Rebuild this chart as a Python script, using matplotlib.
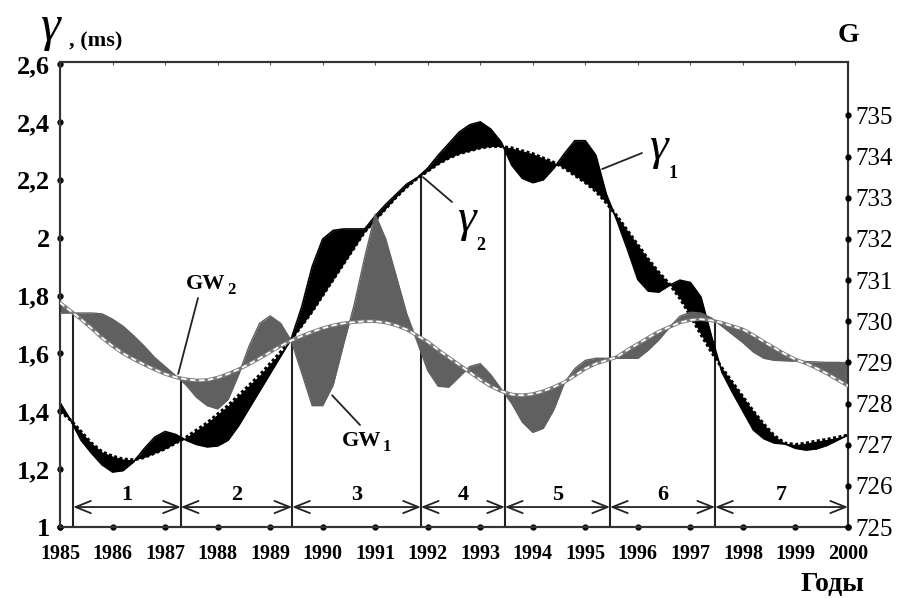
import numpy as np
import matplotlib
matplotlib.use("Agg")
import matplotlib.pyplot as plt

plt.rcParams["font.family"] = ["Liberation Serif", "DejaVu Serif"]

# sampling grid of the curves (every 0.2 year)
years = np.round(np.arange(1985.0, 2000.01, 0.2), 1)

# gamma_1 (wiggly) and gamma_2 (smooth), ms
gamma1 = [1.43, 1.37, 1.30, 1.255, 1.215, 1.19, 1.195, 1.225, 1.27, 1.31,
          1.33, 1.32, 1.30, 1.285, 1.277, 1.28, 1.30, 1.35, 1.41, 1.47,
          1.53, 1.59, 1.65, 1.76, 1.90, 1.995, 2.025, 2.03, 2.03, 2.03,
          2.075, 2.115, 2.15, 2.185, 2.207, 2.24, 2.285, 2.325, 2.365, 2.39,
          2.40, 2.375, 2.33, 2.25, 2.205, 2.19, 2.20, 2.24, 2.29, 2.335,
          2.335, 2.285, 2.15, 2.06, 1.96, 1.855, 1.815, 1.812, 1.835, 1.853,
          1.845, 1.795, 1.66, 1.535, 1.465, 1.40, 1.335, 1.305, 1.29, 1.287,
          1.272, 1.266, 1.27, 1.282, 1.30, 1.318]
gamma2 = [1.40, 1.37, 1.33, 1.29, 1.26, 1.245, 1.235, 1.232, 1.24, 1.255,
          1.27, 1.29, 1.31, 1.335, 1.36, 1.39, 1.42, 1.455, 1.49, 1.525,
          1.565, 1.605, 1.648, 1.695, 1.745, 1.80, 1.855, 1.91, 1.965, 2.02,
          2.06, 2.10, 2.14, 2.175, 2.205, 2.23, 2.255, 2.275, 2.29, 2.30,
          2.31, 2.315, 2.315, 2.31, 2.30, 2.29, 2.275, 2.26, 2.24, 2.215,
          2.19, 2.16, 2.12, 2.075, 2.025, 1.975, 1.925, 1.88, 1.84, 1.79,
          1.73, 1.665, 1.605, 1.55, 1.50, 1.45, 1.40, 1.355, 1.315, 1.29,
          1.285, 1.29, 1.297, 1.303, 1.31, 1.318]

# GW_1 (wiggly) and GW_2 (smooth), G units
gw1 = [730.2, 730.2, 730.2, 730.2, 730.18, 730.05, 729.88, 729.65, 729.4, 729.12,
       728.9, 728.68, 728.45, 728.15, 727.95, 727.87, 728.1, 728.7, 729.4, 729.95,
       730.13, 729.95, 729.53, 728.75, 727.95, 727.95, 728.45, 729.45, 730.4, 731.55,
       732.6, 732.0, 731.1, 730.18, 729.5, 728.8, 728.42, 728.4, 728.65, 728.9,
       728.97, 728.7, 728.35, 728.0, 727.55, 727.3, 727.4, 727.85, 728.5, 728.85,
       729.05, 729.1, 729.1, 729.1, 729.1, 729.1, 729.3, 729.55, 729.85, 730.12,
       730.22, 730.2, 730.08, 729.88, 729.68, 729.48, 729.25, 729.1, 729.05, 729.04,
       729.03, 729.02, 729.01, 729.0, 729.0, 728.99]
gw2 = [730.45, 730.25, 730.05, 729.83, 729.6, 729.4, 729.22, 729.08, 728.95, 728.83,
       728.72, 728.64, 728.59, 728.56, 728.57, 728.63, 728.72, 728.83, 728.96, 729.1,
       729.25, 729.4, 729.53, 729.64, 729.74, 729.83, 729.9, 729.95, 729.98, 730.0,
       730.0, 729.97, 729.9, 729.8, 729.65, 729.5, 729.3, 729.12, 728.94, 728.76,
       728.58, 728.42, 728.3, 728.22, 728.2, 728.23, 728.3, 728.4, 728.52, 728.68,
       728.85, 728.97, 729.05, 729.13, 729.3, 729.45, 729.6, 729.75, 729.86, 729.97,
       730.03, 730.05, 730.02, 729.96, 729.88, 729.8, 729.66, 729.5, 729.35, 729.2,
       729.07, 728.98, 728.86, 728.73, 728.58, 728.43]

# period boundaries (years) and their labels
boundaries = [1985.25, 1987.3, 1989.42, 1991.87, 1993.47, 1995.47, 1997.47, 2000.0]
period_labels = ["1", "2", "3", "4", "5", "6", "7"]

x_ticks = list(range(1985, 2001))
g_left_ticks = [1.0, 1.2, 1.4, 1.6, 1.8, 2.0, 2.2, 2.4, 2.6]
g_left_labels = ["1", "1,2", "1,4", "1,6", "1,8", "2", "2,2", "2,4", "2,6"]
g_right_ticks = list(range(725, 736))

L_LIM = (1.0, 2.607)
G_LIM = (725.0, 736.3)

W, H = 900, 598


def fpx(x, y):
    """pixel position (from top-left) -> figure fraction"""
    return x / W, 1 - y / H


def curve_label(x, y, name, sub, size, sub_dx, sub_dy, sub_size, **kw):
    fig.text(*fpx(x, y), name, fontsize=size, ha="center", va="center", **kw)
    fig.text(*fpx(x + sub_dx, y + sub_dy), sub, fontsize=sub_size,
             fontweight="bold", ha="center", va="center")


fig = plt.figure(figsize=(9, 5.98), dpi=100)
ax = fig.add_axes([60 / W, 1 - 527 / H, 788 / W, 465 / H])
ax2 = ax.twinx()

ax.set_xlim(1985, 2000)
ax.set_ylim(*L_LIM)
ax2.set_ylim(*G_LIM)

# gamma curves with black fill between them
ax.fill_between(years, gamma1, gamma2, color="black", lw=0, interpolate=True, zorder=2)
ax.plot(years, gamma1, color="black", lw=1.2, zorder=3)
ax.plot(years, gamma2, color="black", lw=2.2, ls=(0, (1, 0.8)), zorder=3)

# GW curves with gray fill
ax2.fill_between(years, gw1, gw2, color="#606060", lw=0, interpolate=True, zorder=2)
ax2.plot(years, gw1, color="#606060", lw=1.0, zorder=3)
ax2.plot(years, gw2, color="#7a7a7a", lw=2.6, zorder=3)
ax2.plot(years, gw2, color="white", lw=1.3, ls=(0, (3, 2)), zorder=4)

# vertical lines up to the higher of the two crossing points
g2l = lambda g: L_LIM[0] + (np.asarray(g) - G_LIM[0]) * (L_LIM[1] - L_LIM[0]) / (G_LIM[1] - G_LIM[0])
b = np.array(boundaries[:-1])
tops = np.maximum(np.interp(b, years, gamma2), g2l(np.interp(b, years, gw2)))
ax.vlines(b, L_LIM[0], tops, color="#222222", lw=1.5, zorder=1)

# period arrows and numbers
for i, lab in enumerate(period_labels):
    a0, a1 = boundaries[i], boundaries[i + 1]
    ax.annotate("", xy=(a1, 1.069), xytext=(a0, 1.069),
                arrowprops=dict(arrowstyle="<->,head_length=0.55,head_width=0.22",
                                color="#222222", lw=1.3, shrinkA=0, shrinkB=0,
                                mutation_scale=20), zorder=5)
    ax.text((a0 + a1) / 2, 1.112, lab, ha="center", va="center",
            fontsize=16, fontweight="bold")

# axes styling
for a in (ax, ax2):
    for s in a.spines.values():
        s.set_color("#333333")
        s.set_linewidth(1.5)

ax.set_xticks(x_ticks)
ax.set_xticklabels([str(y) for y in x_ticks], fontsize=14.5, fontweight="bold")
ax.set_yticks(g_left_ticks)
ax.set_yticklabels(g_left_labels, fontsize=19, fontweight="bold")
ax.tick_params(axis="x", length=0, pad=12)
ax.tick_params(axis="y", length=0, pad=7)
ax2.set_yticks(g_right_ticks)
ax2.set_yticklabels([str(g) for g in g_right_ticks], fontsize=18)
ax2.tick_params(axis="y", length=0, pad=5)

# dot-shaped tick marks
ax.plot(x_ticks, [L_LIM[0]] * len(x_ticks), "o", ms=3.5, color="black", clip_on=False, zorder=10)
ax.plot([1985] * len(g_left_ticks), g_left_ticks, "o", ms=3.5, color="black", clip_on=False, zorder=10)
ax2.plot([2000] * len(g_right_ticks), g_right_ticks, "o", ms=3.5, color="black", clip_on=False, zorder=10)

top = ax.secondary_xaxis("top")
top.set_xticks(x_ticks)
top.set_xticklabels([])
top.tick_params(length=2, direction="in", color="#555555")
top.spines["top"].set_visible(False)

# axis titles
fig.text(*fpx(50, 28), "γ", fontsize=36, fontstyle="italic", ha="center", va="center")
fig.text(*fpx(96, 41), ", (ms)", fontsize=16, fontweight="bold", ha="center", va="center")
fig.text(*fpx(848, 35), "G", fontsize=20, fontweight="bold", ha="center", va="center")
fig.text(*fpx(832, 584), "Годы", fontsize=20, fontweight="bold", ha="center", va="center")

# curve labels with leader lines
line_kw = dict(arrowstyle="-", color="#222222", lw=1.3, shrinkA=0, shrinkB=0)
ax2.annotate("", xy=(1987.25, 728.72), xytext=(198, H - 298), textcoords="figure pixels", arrowprops=line_kw)
curve_label(206, 284, "GW", "2", 16, 25, 6, 12, fontweight="bold")
ax2.annotate("", xy=(1990.18, 728.2), xytext=(360, H - 425), textcoords="figure pixels", arrowprops=line_kw)
curve_label(362, 441, "GW", "1", 16, 25, 6, 12, fontweight="bold")

ax.annotate("", xy=(1991.91, 2.209), xytext=(452, H - 202), textcoords="figure pixels", arrowprops=line_kw)
curve_label(466, 220, "γ", "2", 34, 15, 26, 13, fontstyle="italic")
ax.annotate("", xy=(1995.32, 2.237), xytext=(642, H - 153), textcoords="figure pixels", arrowprops=line_kw)
curve_label(658, 148, "γ", "1", 34, 15, 26, 13, fontstyle="italic")

fig.savefig("out.png", dpi=100)
plt.close(fig)
